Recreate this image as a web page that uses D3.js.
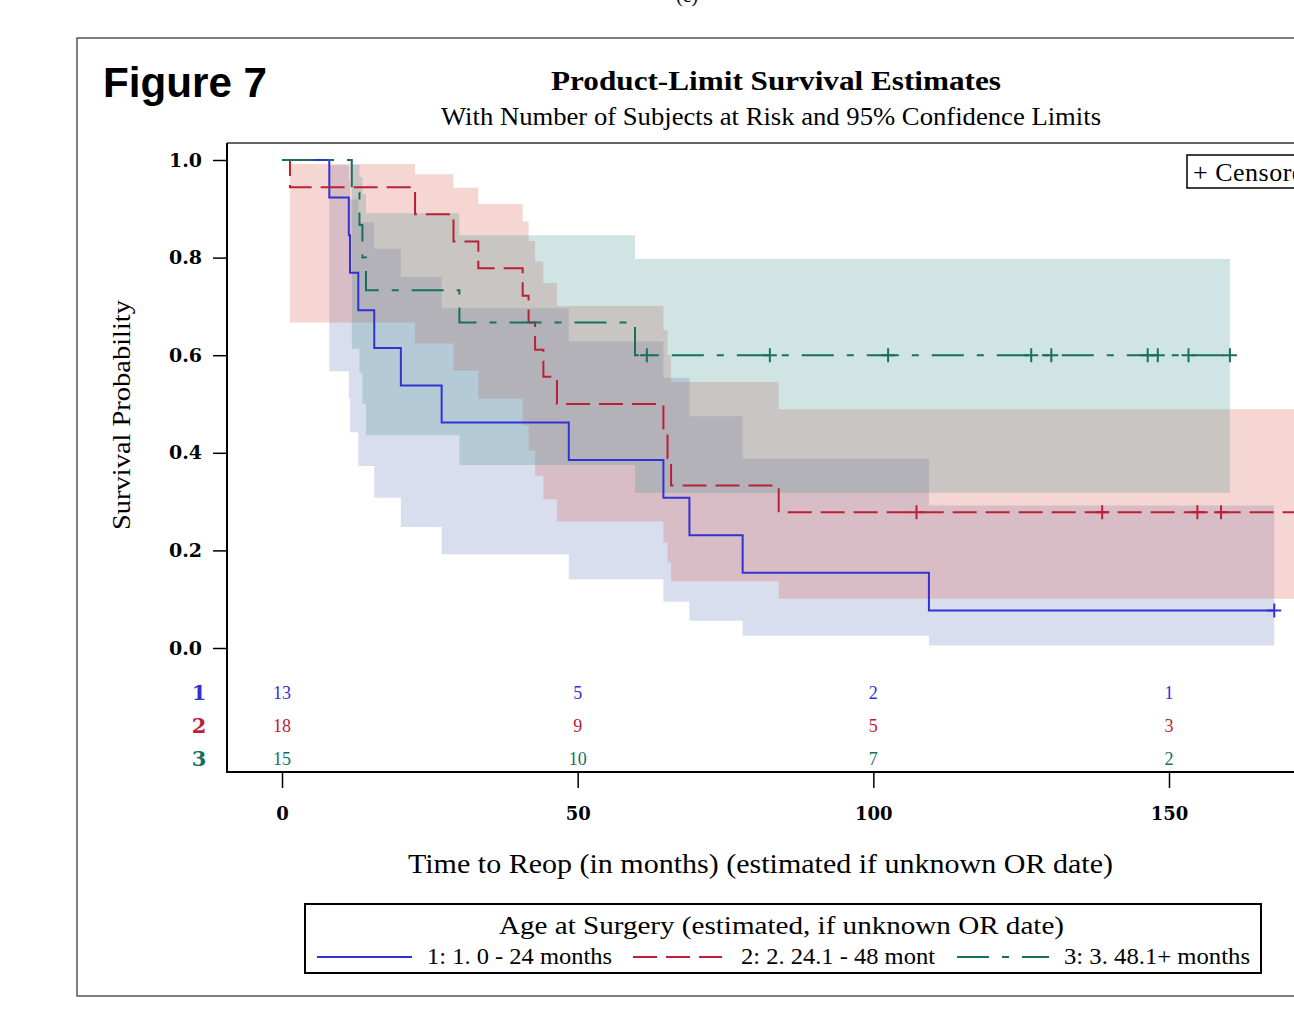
<!DOCTYPE html>
<html>
<head>
<meta charset="utf-8">
<script src="https://cdn.jsdelivr.net/npm/d3@7"></script>
<style>
  body { margin: 0; background: #fff; }
  svg { display: block; }
</style>
</head>
<body>
<div id="chart"></div>
<script>
// Kaplan-Meier steps, one set of arrays per age group.
var time1  = [0, 8.0, 11.3, 11.5, 12.9, 15.6, 20.1, 27.0, 48.5, 64.5, 68.9, 77.9, 109.4];
var surv1  = [1, 0.923, 0.846, 0.769, 0.692, 0.615, 0.538, 0.462, 0.385, 0.308, 0.231, 0.154, 0.077];
var lower1 = [1, 0.567, 0.512, 0.442, 0.373, 0.308, 0.248, 0.192, 0.141, 0.095, 0.056, 0.025, 0.005];
var upper1 = [1, 0.989, 0.959, 0.919, 0.872, 0.818, 0.760, 0.696, 0.628, 0.554, 0.475, 0.388, 0.292];
var censor1 = [167.8];
var end1 = 167.8;

var time2  = [0, 1.35, 22.5, 29.0, 33.2, 40.7, 41.7, 42.8, 44.2, 46.5, 64.5, 65.2, 65.8, 84.0];
var surv2  = [1, 0.944, 0.889, 0.833, 0.778, 0.722, 0.667, 0.611, 0.556, 0.500, 0.444, 0.389, 0.333, 0.278];
var lower2 = [1, 0.667, 0.624, 0.568, 0.511, 0.456, 0.404, 0.353, 0.305, 0.259, 0.216, 0.175, 0.137, 0.101];
var upper2 = [1, 0.992, 0.971, 0.943, 0.910, 0.874, 0.834, 0.792, 0.748, 0.701, 0.651, 0.600, 0.545, 0.489];
var censor2 = [107.3, 138.7, 154.8, 158.8, 176];
var end2 = 176;

var time3  = [0, 11.8, 13.1, 13.6, 14.2, 30.0, 59.7];
var surv3  = [1, 0.933, 0.867, 0.800, 0.733, 0.667, 0.600];
var lower3 = [1, 0.613, 0.564, 0.500, 0.436, 0.375, 0.318];
var upper3 = [1, 0.990, 0.965, 0.931, 0.891, 0.846, 0.797];
var censor3 = [61.7, 82.5, 102.5, 126.7, 130.1, 146.4, 148.1, 153.3, 160.3];
var end3 = 160.3;

// number at risk table
var riskTimes = [0, 50, 100, 150];
var risk1 = [13, 5, 2, 1];
var risk2 = [18, 9, 5, 3];
var risk3 = [15, 10, 7, 2];

var groupLabels = ["1: 1. 0 - 24 months", "2: 2. 24.1 - 48 mont", "3: 3. 48.1+ months"];
var yTicks = [0, 0.2, 0.4, 0.6, 0.8, 1.0];

var serif = "'Liberation Serif', 'Times New Roman', serif";
var tickFont = "'DejaVu Serif', Georgia, serif";

var groups = [
    {id: "1", time: time1, surv: surv1, lo: lower1, hi: upper1, censor: censor1, end: end1, risk: risk1,
     line: "#3232d4", band: "rgb(99,123,187)", dash: null},
    {id: "2", time: time2, surv: surv2, lo: lower2, hi: upper2, censor: censor2, end: end2, risk: risk2,
     line: "#bb2035", band: "rgb(215,91,79)", dash: "24,9"},
    {id: "3", time: time3, surv: surv3, lo: lower3, hi: upper3, censor: censor3, end: end3, risk: risk3,
     line: "#17705f", band: "rgb(71,147,147)", dash: "32,13,7,13"}
];

var W = 1294, H = 1014;
var plotLeft = 227, plotTop = 143, axisY = 772;

var svg = d3.select("#chart").append("svg")
    .attr("width", W)
    .attr("height", H);

var x = d3.scaleLinear().domain([0, 150]).range([282, 1169]);
var y = d3.scaleLinear().domain([0, 1]).range([648, 160]);

// outer figure frame (runs off the right edge like the scan)
svg.append("path")
    .attr("d", "M" + (W + 10) + ",38 H77 V996 H" + (W + 10))
    .attr("fill", "none")
    .attr("stroke", "#555")
    .attr("stroke-width", 1.5);

// fragment of a caption cut off at the very top
svg.append("text")
    .attr("x", 687).attr("y", 2)
    .attr("text-anchor", "middle")
    .style("font-family", serif).style("font-size", "20px")
    .text("(c)");

svg.append("text")
    .attr("x", 103).attr("y", 97)
    .attr("textLength", 164).attr("lengthAdjust", "spacingAndGlyphs")
    .style("font-family", "'Liberation Sans', Arial, sans-serif")
    .style("font-weight", "bold").style("font-size", "42px")
    .text("Figure 7");

svg.append("text")
    .attr("x", 551).attr("y", 90)
    .attr("textLength", 450).attr("lengthAdjust", "spacingAndGlyphs")
    .style("font-family", serif).style("font-weight", "bold").style("font-size", "28px")
    .text("Product-Limit Survival Estimates");

svg.append("text")
    .attr("x", 441).attr("y", 125)
    .attr("textLength", 660).attr("lengthAdjust", "spacingAndGlyphs")
    .style("font-family", serif).style("font-size", "25px")
    .text("With Number of Subjects at Risk and 95% Confidence Limits");

// clip for the plotting region
svg.append("clipPath").attr("id", "plotclip")
  .append("rect")
    .attr("x", plotLeft).attr("y", plotTop)
    .attr("width", W - plotLeft + 20).attr("height", 648 - plotTop + 10);

var plot = svg.append("g").attr("clip-path", "url(#plotclip)");

function steps(g) {
    var pts = g.time.map(function(t, i) {
        return {t: t, s: g.surv[i], lo: g.lo[i], hi: g.hi[i]};
    });
    var last = pts[pts.length - 1];
    pts.push({t: g.end, s: last.s, lo: last.lo, hi: last.hi});
    return pts;
}

var band = d3.area()
    .curve(d3.curveStepAfter)
    .x(function(d) { return x(d.t); })
    .y0(function(d) { return y(d.lo); })
    .y1(function(d) { return y(d.hi); });

var line = d3.line()
    .curve(d3.curveStepAfter)
    .x(function(d) { return x(d.t); })
    .y(function(d) { return y(d.s); });

// confidence bands first, in group order
groups.forEach(function(g) {
    plot.append("path")
        .datum(steps(g))
        .attr("d", band)
        .attr("fill", g.band)
        .attr("fill-opacity", 0.25);
});

// survival step lines and censor marks
groups.forEach(function(g) {
    plot.append("path")
        .datum(steps(g))
        .attr("d", line)
        .attr("fill", "none")
        .attr("stroke", g.line)
        .attr("stroke-width", 2)
        .attr("stroke-dasharray", g.dash);

    plot.selectAll(null)
        .data(g.censor)
        .enter().append("path")
        .attr("d", function(t) {
            var i = d3.bisectRight(g.time, t) - 1;
            var cx = x(t), cy = y(g.surv[i]);
            return "M" + (cx - 7) + "," + cy + "H" + (cx + 7) + "M" + cx + "," + (cy - 7) + "V" + (cy + 7);
        })
        .attr("stroke", g.line)
        .attr("stroke-width", 2);
});

// frame of the plot area
svg.append("path")
    .attr("d", "M" + (W + 10) + "," + plotTop + " H" + plotLeft)
    .attr("stroke", "#333").attr("stroke-width", 1.5).attr("fill", "none");
svg.append("path")
    .attr("d", "M" + plotLeft + "," + plotTop + " V" + axisY + " H" + (W + 10))
    .attr("stroke", "#000").attr("stroke-width", 2).attr("fill", "none");

// y axis
var yAxis = svg.append("g")
    .attr("transform", "translate(" + plotLeft + ",0)")
    .call(d3.axisLeft(y).tickValues(yTicks).tickFormat(d3.format(".1f")).tickSize(14).tickPadding(11));
yAxis.select(".domain").remove();
yAxis.selectAll(".tick line").attr("stroke", "#000").attr("stroke-width", 1.5);
yAxis.selectAll(".tick text")
    .attr("fill", "#000")
    .style("font-family", tickFont).style("font-weight", "bold").style("font-size", "19px");

svg.append("text")
    .attr("transform", "translate(130,415) rotate(-90)")
    .attr("text-anchor", "middle")
    .attr("textLength", 230).attr("lengthAdjust", "spacingAndGlyphs")
    .style("font-family", serif).style("font-size", "25px")
    .text("Survival Probability");

// x axis under the at-risk rows
var xAxis = svg.append("g")
    .attr("transform", "translate(0," + axisY + ")")
    .call(d3.axisBottom(x).tickValues(riskTimes).tickSize(16));
xAxis.select(".domain").remove();
xAxis.selectAll(".tick line").attr("stroke", "#000").attr("stroke-width", 1.5);
xAxis.selectAll(".tick text")
    .attr("y", 48).attr("dy", 0)
    .attr("fill", "#000")
    .style("font-family", tickFont).style("font-weight", "bold").style("font-size", "18px");

svg.append("text")
    .attr("x", 408).attr("y", 873)
    .attr("textLength", 705).attr("lengthAdjust", "spacingAndGlyphs")
    .style("font-family", serif).style("font-size", "27px")
    .text("Time to Reop (in months) (estimated if unknown OR date)");

// number at risk rows
var rowY = [699, 732, 765];
groups.forEach(function(g, k) {
    svg.append("text")
        .attr("x", 199).attr("y", rowY[k] + 1)
        .attr("text-anchor", "middle")
        .attr("fill", g.line)
        .style("font-family", tickFont).style("font-weight", "bold").style("font-size", "21px")
        .text(g.id);
    svg.selectAll(null)
        .data(g.risk)
        .enter().append("text")
        .attr("x", function(d, i) { return x(riskTimes[i]); })
        .attr("y", rowY[k])
        .attr("text-anchor", "middle")
        .attr("fill", g.line)
        .style("font-family", serif).style("font-size", "18px")
        .text(function(d) { return d; });
});

// censored legend box in the corner, clipped by the page edge like the scan
svg.append("rect")
    .attr("x", 1187).attr("y", 155)
    .attr("width", 150).attr("height", 33)
    .attr("fill", "#fff").attr("stroke", "#000").attr("stroke-width", 1.5);
svg.append("text")
    .attr("x", 1193).attr("y", 181)
    .style("font-family", serif).style("font-size", "26px")
    .style("letter-spacing", "0.5px")
    .text("+ Censored");

// group legend
svg.append("rect")
    .attr("x", 305).attr("y", 904)
    .attr("width", 956).attr("height", 69)
    .attr("fill", "#fff").attr("stroke", "#000").attr("stroke-width", 2);
svg.append("text")
    .attr("x", 499).attr("y", 934)
    .attr("textLength", 565).attr("lengthAdjust", "spacingAndGlyphs")
    .style("font-family", serif).style("font-size", "25px")
    .text("Age at Surgery (estimated, if unknown OR date)");

var legSample = [[317, 412], [633, 722], [957, 1049]];
var legText = [[427, 185], [741, 194], [1064, 186]];
groups.forEach(function(g, k) {
    svg.append("line")
        .attr("x1", legSample[k][0]).attr("x2", legSample[k][1])
        .attr("y1", 957).attr("y2", 957)
        .attr("stroke", g.line).attr("stroke-width", 2)
        .attr("stroke-dasharray", g.dash);
    svg.append("text")
        .attr("x", legText[k][0]).attr("y", 964)
        .attr("textLength", legText[k][1]).attr("lengthAdjust", "spacingAndGlyphs")
        .style("font-family", serif).style("font-size", "23px")
        .text(groupLabels[k]);
});
</script>
</body>
</html>
